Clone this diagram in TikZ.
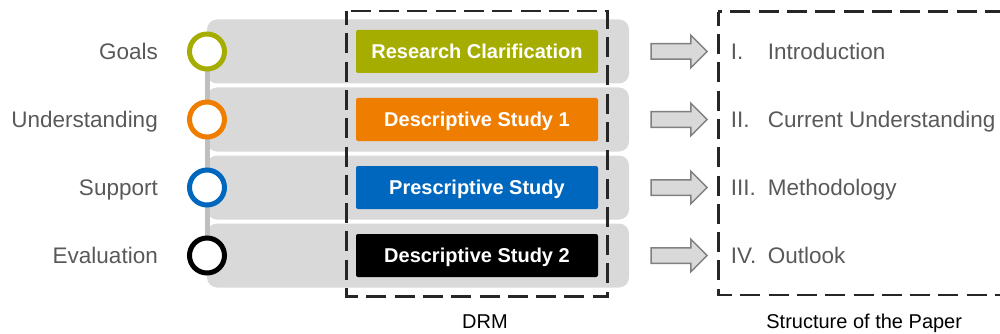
\documentclass[tikz,border=0pt]{standalone}
\usepackage{fontspec}
\setmainfont{Liberation Sans}
\usetikzlibrary{shapes.arrows,backgrounds}
\definecolor{cOlive}{RGB}{165,174,0}
\definecolor{cOrange}{RGB}{239,125,0}
\definecolor{cBlue}{RGB}{0,103,190}
\definecolor{labelgray}{RGB}{89,89,89}
\definecolor{bandgray}{RGB}{217,217,217}
\definecolor{linegray}{RGB}{191,191,191}
\definecolor{arrowgray}{RGB}{128,128,128}
\definecolor{framegray}{RGB}{38,38,38}
\begin{document}
\begin{tikzpicture}[x=1pt,y=-1pt,
 lbl/.style={font=\fontsize{22.5}{27}\selectfont, text=labelgray, inner sep=0pt, text height=16.1pt, text depth=0pt},
 ring/.style={circle, draw=#1, line width=5pt, fill=white, minimum size=35pt, inner sep=0pt},
 band/.style={rounded corners=10pt, fill=bandgray, minimum width=422pt, minimum height=64pt, inner sep=0pt},
 phase/.style={fill=#1, rounded corners=2pt, text=white, font=\bfseries\fontsize{20}{24}\selectfont, minimum width=242pt, minimum height=43pt, inner sep=0pt, text height=14.3pt, text depth=0pt},
 pointer/.style={single arrow, draw=arrowgray, fill=bandgray, line width=1.5pt, minimum height=56pt, inner sep=7pt, single arrow head extend=8.5pt, shape border rotate=0},
 frame/.style={draw=framegray, line width=2.5pt, dash pattern=on 20pt off 8.3pt, dash phase=6pt},
 caption/.style={font=\fontsize{20}{24}\selectfont, inner sep=0pt, text height=14.3pt, text depth=0pt}
]
\useasboundingbox (0,0) rectangle (1000,334);
\clip (0,0) rectangle (1000,334);

% left labels
\node[lbl, anchor=east] (lg) at (158,51.5) {Goals};
\node[lbl, anchor=east] (lu) at (158,119.5) {Understanding};
\node[lbl, anchor=east] (ls) at (158,187.5) {Support};
\node[lbl, anchor=east] (le) at (158,255.5) {Evaluation};

% rings
\node[ring=cOlive] (c1) at (207,51.5) {};
\node[ring=cOrange] (c2) at (207,119.5) {};
\node[ring=cBlue] (c3) at (207,187.5) {};
\node[ring=black] (c4) at (207,255.5) {};

\begin{pgfonlayer}{background}
\node[band] (b1) at (418,51.5) {};
\node[band] (b2) at (418,119.5) {};
\node[band] (b3) at (418,187.5) {};
\node[band] (b4) at (418,255.5) {};
\draw[linegray, line width=5pt] (c1) -- (c4);
\end{pgfonlayer}

% phases
\node[phase=cOlive] (p1) at (477,51.5) {Research Clarification};
\node[phase=cOrange] (p2) at (477,119.5) {Descriptive Study 1};
\node[phase=cBlue] (p3) at (477,187.5) {Prescriptive Study};
\node[phase=black] (p4) at (477,255.5) {Descriptive Study 2};

% frames
\draw[frame] (346.7,11) rectangle (607.7,296.7);
\draw[frame] (718.3,11.7) rectangle (1014,295);

% arrows
\node[pointer] (a1) at (675.2,51.5) {};
\node[pointer] (a2) at (675.2,119.5) {};
\node[pointer] (a3) at (675.2,187.5) {};
\node[pointer] (a4) at (675.2,255.5) {};

% paper structure
\node[lbl, anchor=west] (n1) at (730.7,51.5) {I.};
\node[lbl, anchor=west] (t1) at (767.7,51.5) {Introduction};
\node[lbl, anchor=west] (n2) at (730.7,119.5) {II.};
\node[lbl, anchor=west] (t2) at (767.7,119.5) {Current Understanding};
\node[lbl, anchor=west] (n3) at (730.7,187.5) {III.};
\node[lbl, anchor=west] (t3) at (767.7,187.5) {Methodology};
\node[lbl, anchor=west] (n4) at (730.7,255.5) {IV.};
\node[lbl, anchor=west] (t4) at (767.7,255.5) {Outlook};

% captions
\node[caption] (drm) at (485,321) {DRM};
\node[caption] (sp) at (864.2,321) {Structure of the Paper};
\end{tikzpicture}
\end{document}
